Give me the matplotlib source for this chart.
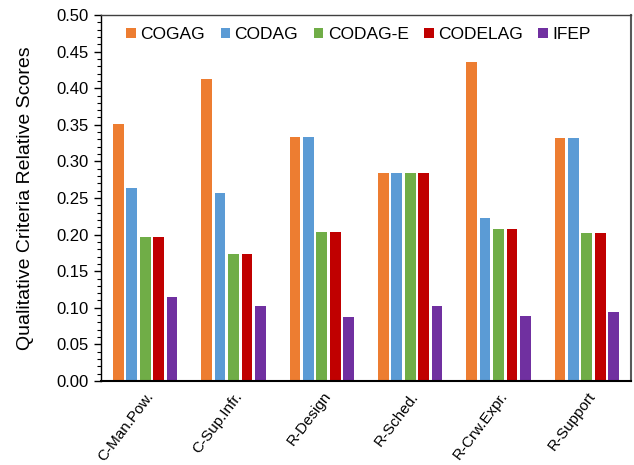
import numpy as np
import matplotlib.pyplot as plt
import matplotlib.transforms as mtransforms
from matplotlib.ticker import MultipleLocator

plt.rcParams['font.family'] = ['Liberation Sans', 'DejaVu Sans']

categories = ['C-Man.Pow.', 'C-Sup.Infr.', 'R-Design', 'R-Sched.', 'R-Crw.Expr.', 'R-Support']
series = ['COGAG', 'CODAG', 'CODAG-E', 'CODELAG', 'IFEP']
cogag = [0.351, 0.412, 0.334, 0.284, 0.436, 0.332]
codag = [0.264, 0.257, 0.334, 0.284, 0.222, 0.332]
codag_e = [0.197, 0.174, 0.204, 0.284, 0.207, 0.202]
codelag = [0.197, 0.174, 0.204, 0.284, 0.207, 0.202]
ifep = [0.115, 0.102, 0.087, 0.103, 0.089, 0.094]
colors = ['#ED7D31', '#5B9BD5', '#70AD47', '#C00000', '#7030A0']

fig = plt.figure(figsize=(6.34, 4.65), dpi=100)
# axes box in pixels: left 101, right 631, top 15, bottom 381
ax = fig.add_axes([101/634, (465-381)/465, 530/634, 366/465])

x = np.arange(len(categories))
step = 0.152
w = 0.122
for i, (name, vals) in enumerate(zip(series, [cogag, codag, codag_e, codelag, ifep])):
    ax.bar(x + (i - 2) * step, vals, w, color=colors[i], label=name)

ax.set_xlim(-0.5, len(categories) - 0.5)
ax.set_ylim(0, 0.5)
ax.yaxis.set_major_locator(MultipleLocator(0.05))
ax.yaxis.set_minor_locator(MultipleLocator(0.01))
ax.set_yticks(ax.get_yticks())
ax.set_yticklabels(['%.2f' % v for v in ax.get_yticks()])
ax.set_ylim(0, 0.5)
ax.tick_params(axis='y', which='major', length=5, width=1, labelsize=12, pad=4)
ax.tick_params(axis='y', which='minor', length=3, width=0.8)
ax.set_xticks(x)
ax.set_xticklabels(categories, rotation=53, ha='right', va='center',
                   rotation_mode='anchor', fontsize=11)
ax.tick_params(axis='x', length=0, pad=9)
# nudge the rotated labels a little to the right, as in the original
shift = mtransforms.ScaledTranslation(6/100, 0, fig.dpi_scale_trans)
for lab in ax.get_xticklabels():
    lab.set_transform(lab.get_transform() + shift)
ax.set_ylabel('Qualitative Criteria Relative Scores', fontsize=14, labelpad=16)

ax.spines['left'].set_linewidth(1.0)
ax.spines['bottom'].set_linewidth(1.5)
ax.spines['top'].set_color('#404040')
ax.spines['top'].set_linewidth(1.0)
ax.spines['right'].set_color('#595959')
ax.spines['right'].set_linewidth(1.5)

ax.legend(loc='upper center', ncol=5, frameon=False, fontsize=12.5, handlelength=0.55,
          handleheight=0.55, handletextpad=0.25, columnspacing=0.9,
          bbox_to_anchor=(0.486, 1.01))

fig.savefig('out.png', dpi=100)
